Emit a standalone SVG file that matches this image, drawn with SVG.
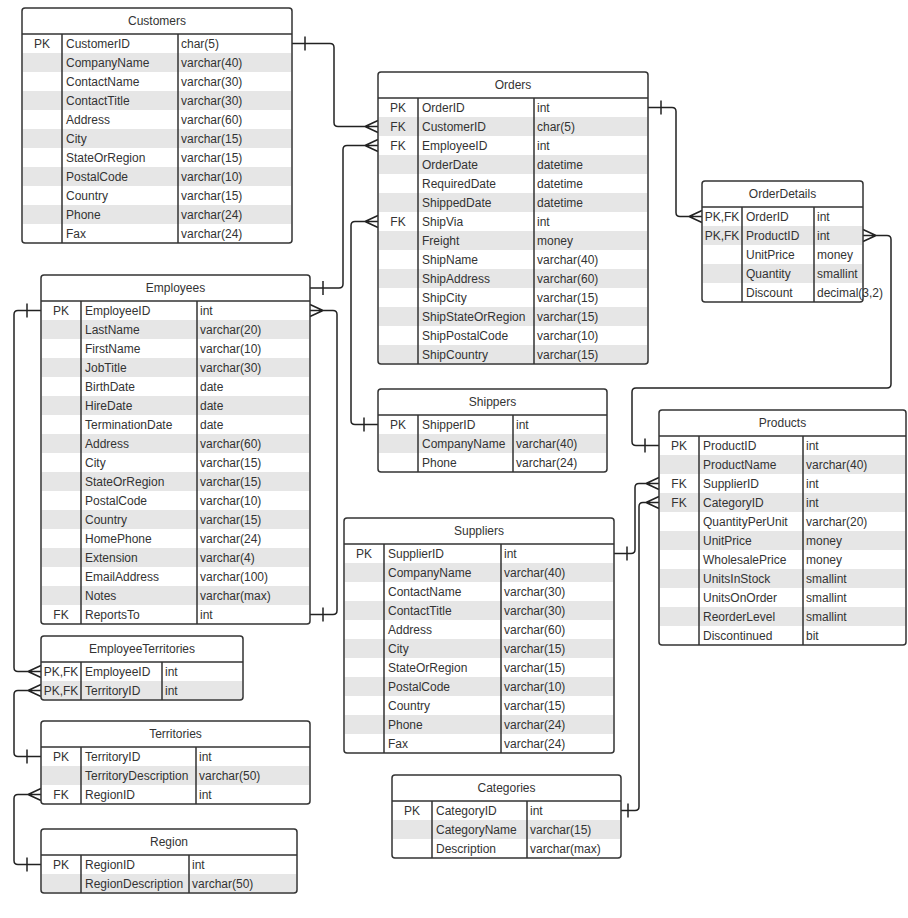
<svg xmlns="http://www.w3.org/2000/svg" width="908" height="918" viewBox="0 0 908 918">
<style>
.bg{fill:#fff}
.box{fill:none;stroke:#333;stroke-width:1.5}
.st{fill:#e6e6e6}
.ln{stroke:#333;stroke-width:1.5;fill:none}
.cn{stroke:#222;stroke-width:1.5;fill:none}
text{font-family:"Liberation Sans",Arial,sans-serif;font-size:12px;fill:#333}
.c{text-anchor:middle}
</style>
<rect width="908" height="918" fill="#fff"/>

<g id="connectors">
<!-- Customers -> Orders -->
<path class="cn" d="M292,43.5 H330 Q334,43.5 334,47.5 V122.5 Q334,126.5 338,126.5 H378 M305,36.5 V50.5 M365,126.5 L378,120.5 M365,126.5 L378,132.5"/>
<!-- Employees -> Orders -->
<path class="cn" d="M310,288 H339 Q343,288 343,284 V149.5 Q343,145.5 347,145.5 H378 M323,281 V295 M365,145.5 L378,139.5 M365,145.5 L378,151.5"/>
<!-- Shippers -> Orders -->
<path class="cn" d="M378,424.5 H355 Q351,424.5 351,420.5 V225.5 Q351,221.5 355,221.5 H378 M364,417.5 V431.5 M365,221.5 L378,215.5 M365,221.5 L378,227.5"/>
<!-- Employees self -->
<path class="cn" d="M310,310.5 H333 Q337,310.5 337,314.5 V610.5 Q337,614.5 333,614.5 H310 M323,310.5 L310,304.5 M323,310.5 L310,316.5 M323,607.5 V621.5"/>
<!-- Employees -> EmployeeTerritories -->
<path class="cn" d="M41,310.5 H18 Q14,310.5 14,314.5 V667.5 Q14,671.5 18,671.5 H41 M27,303.5 V317.5 M28,671.5 L41,665.5 M28,671.5 L41,677.5"/>
<!-- Territories -> EmployeeTerritories -->
<path class="cn" d="M41,690.5 H18 Q14,690.5 14,694.5 V752.5 Q14,756.5 18,756.5 H41 M28,690.5 L41,684.5 M28,690.5 L41,696.5 M27,749.5 V763.5"/>
<!-- Region -> Territories -->
<path class="cn" d="M41,794.5 H18 Q14,794.5 14,798.5 V860.5 Q14,864.5 18,864.5 H41 M28,794.5 L41,788.5 M28,794.5 L41,800.5 M27,857.5 V871.5"/>
<!-- Orders -> OrderDetails -->
<path class="cn" d="M648,107.5 H672 Q676,107.5 676,111.5 V212.5 Q676,216.5 680,216.5 H702 M661,100.5 V114.5 M689,216.5 L702,210.5 M689,216.5 L702,222.5"/>
<!-- Products -> OrderDetails -->
<path class="cn" d="M863,235.5 H887 Q891,235.5 891,239.5 V384 Q891,388 887,388 H636 Q632,388 632,392 V441.5 Q632,445.5 636,445.5 H659 M876,235.5 L863,229.5 M876,235.5 L863,241.5 M645,438.5 V452.5"/>
<!-- Suppliers -> Products -->
<path class="cn" d="M614,553.5 H631 Q635,553.5 635,549.5 V487.5 Q635,483.5 639,483.5 H659 M627,546.5 V560.5 M646,483.5 L659,477.5 M646,483.5 L659,489.5"/>
<!-- Categories -> Products -->
<path class="cn" d="M621,810.5 H635 Q639,810.5 639,806.5 V506.5 Q639,502.5 643,502.5 H659 M628,803.5 V817.5 M646,502.5 L659,496.5 M646,502.5 L659,508.5"/>
</g>

<g id="Customers">
<rect class="bg" x="22" y="8" width="270" height="235" rx="3"/>
<rect class="st" x="22.75" y="53" width="268.5" height="19"/>
<rect class="st" x="22.75" y="91" width="268.5" height="19"/>
<rect class="st" x="22.75" y="129" width="268.5" height="19"/>
<rect class="st" x="22.75" y="167" width="268.5" height="19"/>
<rect class="st" x="22.75" y="205" width="268.5" height="19"/>
<rect class="box" x="22" y="8" width="270" height="235" rx="3"/>
<path class="ln" d="M22,34 H292 M62,34 V243 M178,34 V243"/>
<text class="c" x="157" y="25">Customers</text>
<text class="c" x="42" y="48">PK</text>
<text x="66" y="48">CustomerID</text><text x="181" y="48">char(5)</text>
<text x="66" y="67">CompanyName</text><text x="181" y="67">varchar(40)</text>
<text x="66" y="86">ContactName</text><text x="181" y="86">varchar(30)</text>
<text x="66" y="105">ContactTitle</text><text x="181" y="105">varchar(30)</text>
<text x="66" y="124">Address</text><text x="181" y="124">varchar(60)</text>
<text x="66" y="143">City</text><text x="181" y="143">varchar(15)</text>
<text x="66" y="162">StateOrRegion</text><text x="181" y="162">varchar(15)</text>
<text x="66" y="181">PostalCode</text><text x="181" y="181">varchar(10)</text>
<text x="66" y="200">Country</text><text x="181" y="200">varchar(15)</text>
<text x="66" y="219">Phone</text><text x="181" y="219">varchar(24)</text>
<text x="66" y="238">Fax</text><text x="181" y="238">varchar(24)</text>
</g>

<g id="Orders">
<rect class="bg" x="378" y="72" width="270" height="292" rx="3"/>
<rect class="st" x="378.75" y="117" width="268.5" height="19"/>
<rect class="st" x="378.75" y="155" width="268.5" height="19"/>
<rect class="st" x="378.75" y="193" width="268.5" height="19"/>
<rect class="st" x="378.75" y="231" width="268.5" height="19"/>
<rect class="st" x="378.75" y="269" width="268.5" height="19"/>
<rect class="st" x="378.75" y="307" width="268.5" height="19"/>
<rect class="st" x="378.75" y="345" width="268.5" height="18"/>
<rect class="box" x="378" y="72" width="270" height="292" rx="3"/>
<path class="ln" d="M378,98 H648 M418,98 V364 M534,98 V364"/>
<text class="c" x="513" y="89">Orders</text>
<text class="c" x="398" y="112">PK</text><text x="422" y="112">OrderID</text><text x="537" y="112">int</text>
<text class="c" x="398" y="131">FK</text><text x="422" y="131">CustomerID</text><text x="537" y="131">char(5)</text>
<text class="c" x="398" y="150">FK</text><text x="422" y="150">EmployeeID</text><text x="537" y="150">int</text>
<text x="422" y="169">OrderDate</text><text x="537" y="169">datetime</text>
<text x="422" y="188">RequiredDate</text><text x="537" y="188">datetime</text>
<text x="422" y="207">ShippedDate</text><text x="537" y="207">datetime</text>
<text class="c" x="398" y="226">FK</text><text x="422" y="226">ShipVia</text><text x="537" y="226">int</text>
<text x="422" y="245">Freight</text><text x="537" y="245">money</text>
<text x="422" y="264">ShipName</text><text x="537" y="264">varchar(40)</text>
<text x="422" y="283">ShipAddress</text><text x="537" y="283">varchar(60)</text>
<text x="422" y="302">ShipCity</text><text x="537" y="302">varchar(15)</text>
<text x="422" y="321">ShipStateOrRegion</text><text x="537" y="321">varchar(15)</text>
<text x="422" y="340">ShipPostalCode</text><text x="537" y="340">varchar(10)</text>
<text x="422" y="359">ShipCountry</text><text x="537" y="359">varchar(15)</text>
</g>

<g id="OrderDetails">
<rect class="bg" x="702" y="181" width="161" height="121" rx="3"/>
<rect class="st" x="702.75" y="226" width="159.5" height="19"/>
<rect class="st" x="702.75" y="264" width="159.5" height="19"/>
<rect class="box" x="702" y="181" width="161" height="121" rx="3"/>
<path class="ln" d="M702,207 H863 M742,207 V302 M814,207 V302"/>
<text class="c" x="782.5" y="198">OrderDetails</text>
<text class="c" x="722" y="221">PK,FK</text><text x="746" y="221">OrderID</text><text x="817" y="221">int</text>
<text class="c" x="722" y="240">PK,FK</text><text x="746" y="240">ProductID</text><text x="817" y="240">int</text>
<text x="746" y="259">UnitPrice</text><text x="817" y="259">money</text>
<text x="746" y="278">Quantity</text><text x="817" y="278">smallint</text>
<text x="746" y="297">Discount</text><text x="817" y="297">decimal(3,2)</text>
</g>

<g id="Employees">
<rect class="bg" x="41" y="275" width="269" height="349" rx="3"/>
<rect class="st" x="41.75" y="320" width="267.5" height="19"/>
<rect class="st" x="41.75" y="358" width="267.5" height="19"/>
<rect class="st" x="41.75" y="396" width="267.5" height="19"/>
<rect class="st" x="41.75" y="434" width="267.5" height="19"/>
<rect class="st" x="41.75" y="472" width="267.5" height="19"/>
<rect class="st" x="41.75" y="510" width="267.5" height="19"/>
<rect class="st" x="41.75" y="548" width="267.5" height="19"/>
<rect class="st" x="41.75" y="586" width="267.5" height="19"/>
<rect class="box" x="41" y="275" width="269" height="349" rx="3"/>
<path class="ln" d="M41,301 H310 M81,301 V624 M197,301 V624"/>
<text class="c" x="175.5" y="292">Employees</text>
<text class="c" x="61" y="315">PK</text><text x="85" y="315">EmployeeID</text><text x="200" y="315">int</text>
<text x="85" y="334">LastName</text><text x="200" y="334">varchar(20)</text>
<text x="85" y="353">FirstName</text><text x="200" y="353">varchar(10)</text>
<text x="85" y="372">JobTitle</text><text x="200" y="372">varchar(30)</text>
<text x="85" y="391">BirthDate</text><text x="200" y="391">date</text>
<text x="85" y="410">HireDate</text><text x="200" y="410">date</text>
<text x="85" y="429">TerminationDate</text><text x="200" y="429">date</text>
<text x="85" y="448">Address</text><text x="200" y="448">varchar(60)</text>
<text x="85" y="467">City</text><text x="200" y="467">varchar(15)</text>
<text x="85" y="486">StateOrRegion</text><text x="200" y="486">varchar(15)</text>
<text x="85" y="505">PostalCode</text><text x="200" y="505">varchar(10)</text>
<text x="85" y="524">Country</text><text x="200" y="524">varchar(15)</text>
<text x="85" y="543">HomePhone</text><text x="200" y="543">varchar(24)</text>
<text x="85" y="562">Extension</text><text x="200" y="562">varchar(4)</text>
<text x="85" y="581">EmailAddress</text><text x="200" y="581">varchar(100)</text>
<text x="85" y="600">Notes</text><text x="200" y="600">varchar(max)</text>
<text class="c" x="61" y="619">FK</text><text x="85" y="619">ReportsTo</text><text x="200" y="619">int</text>
</g>

<g id="EmployeeTerritories">
<rect class="bg" x="41" y="636" width="202" height="64" rx="3"/>
<rect class="st" x="41.75" y="681" width="200.5" height="18"/>
<rect class="box" x="41" y="636" width="202" height="64" rx="3"/>
<path class="ln" d="M41,662 H243 M81,662 V700 M162,662 V700"/>
<text class="c" x="142" y="653">EmployeeTerritories</text>
<text class="c" x="61" y="676">PK,FK</text><text x="85" y="676">EmployeeID</text><text x="165" y="676">int</text>
<text class="c" x="61" y="695">PK,FK</text><text x="85" y="695">TerritoryID</text><text x="165" y="695">int</text>
</g>

<g id="Territories">
<rect class="bg" x="41" y="721" width="269" height="83" rx="3"/>
<rect class="st" x="41.75" y="766" width="267.5" height="19"/>
<rect class="box" x="41" y="721" width="269" height="83" rx="3"/>
<path class="ln" d="M41,747 H310 M81,747 V804 M196,747 V804"/>
<text class="c" x="175.5" y="738">Territories</text>
<text class="c" x="61" y="761">PK</text><text x="85" y="761">TerritoryID</text><text x="199" y="761">int</text>
<text x="85" y="780">TerritoryDescription</text><text x="199" y="780">varchar(50)</text>
<text class="c" x="61" y="799">FK</text><text x="85" y="799">RegionID</text><text x="199" y="799">int</text>
</g>

<g id="Region">
<rect class="bg" x="41" y="829" width="256" height="64" rx="3"/>
<rect class="st" x="41.75" y="874" width="254.5" height="18"/>
<rect class="box" x="41" y="829" width="256" height="64" rx="3"/>
<path class="ln" d="M41,855 H297 M81,855 V893 M189,855 V893"/>
<text class="c" x="169" y="846">Region</text>
<text class="c" x="61" y="869">PK</text><text x="85" y="869">RegionID</text><text x="192" y="869">int</text>
<text x="85" y="888">RegionDescription</text><text x="192" y="888">varchar(50)</text>
</g>

<g id="Shippers">
<rect class="bg" x="378" y="389" width="229" height="83" rx="3"/>
<rect class="st" x="378.75" y="434" width="227.5" height="19"/>
<rect class="box" x="378" y="389" width="229" height="83" rx="3"/>
<path class="ln" d="M378,415 H607 M418,415 V472 M513,415 V472"/>
<text class="c" x="492.5" y="406">Shippers</text>
<text class="c" x="398" y="429">PK</text><text x="422" y="429">ShipperID</text><text x="516" y="429">int</text>
<text x="422" y="448">CompanyName</text><text x="516" y="448">varchar(40)</text>
<text x="422" y="467">Phone</text><text x="516" y="467">varchar(24)</text>
</g>

<g id="Suppliers">
<rect class="bg" x="344" y="518" width="270" height="235" rx="3"/>
<rect class="st" x="344.75" y="563" width="268.5" height="19"/>
<rect class="st" x="344.75" y="601" width="268.5" height="19"/>
<rect class="st" x="344.75" y="639" width="268.5" height="19"/>
<rect class="st" x="344.75" y="677" width="268.5" height="19"/>
<rect class="st" x="344.75" y="715" width="268.5" height="19"/>
<rect class="box" x="344" y="518" width="270" height="235" rx="3"/>
<path class="ln" d="M344,544 H614 M384,544 V753 M501,544 V753"/>
<text class="c" x="479" y="535">Suppliers</text>
<text class="c" x="364" y="558">PK</text>
<text x="388" y="558">SupplierID</text><text x="504" y="558">int</text>
<text x="388" y="577">CompanyName</text><text x="504" y="577">varchar(40)</text>
<text x="388" y="596">ContactName</text><text x="504" y="596">varchar(30)</text>
<text x="388" y="615">ContactTitle</text><text x="504" y="615">varchar(30)</text>
<text x="388" y="634">Address</text><text x="504" y="634">varchar(60)</text>
<text x="388" y="653">City</text><text x="504" y="653">varchar(15)</text>
<text x="388" y="672">StateOrRegion</text><text x="504" y="672">varchar(15)</text>
<text x="388" y="691">PostalCode</text><text x="504" y="691">varchar(10)</text>
<text x="388" y="710">Country</text><text x="504" y="710">varchar(15)</text>
<text x="388" y="729">Phone</text><text x="504" y="729">varchar(24)</text>
<text x="388" y="748">Fax</text><text x="504" y="748">varchar(24)</text>
</g>

<g id="Products">
<rect class="bg" x="659" y="410" width="247" height="235" rx="3"/>
<rect class="st" x="659.75" y="455" width="245.5" height="19"/>
<rect class="st" x="659.75" y="493" width="245.5" height="19"/>
<rect class="st" x="659.75" y="531" width="245.5" height="19"/>
<rect class="st" x="659.75" y="569" width="245.5" height="19"/>
<rect class="st" x="659.75" y="607" width="245.5" height="19"/>
<rect class="box" x="659" y="410" width="247" height="235" rx="3"/>
<path class="ln" d="M659,436 H906 M699,436 V645 M803,436 V645"/>
<text class="c" x="782.5" y="427">Products</text>
<text class="c" x="679" y="450">PK</text><text x="703" y="450">ProductID</text><text x="806" y="450">int</text>
<text x="703" y="469">ProductName</text><text x="806" y="469">varchar(40)</text>
<text class="c" x="679" y="488">FK</text><text x="703" y="488">SupplierID</text><text x="806" y="488">int</text>
<text class="c" x="679" y="507">FK</text><text x="703" y="507">CategoryID</text><text x="806" y="507">int</text>
<text x="703" y="526">QuantityPerUnit</text><text x="806" y="526">varchar(20)</text>
<text x="703" y="545">UnitPrice</text><text x="806" y="545">money</text>
<text x="703" y="564">WholesalePrice</text><text x="806" y="564">money</text>
<text x="703" y="583">UnitsInStock</text><text x="806" y="583">smallint</text>
<text x="703" y="602">UnitsOnOrder</text><text x="806" y="602">smallint</text>
<text x="703" y="621">ReorderLevel</text><text x="806" y="621">smallint</text>
<text x="703" y="640">Discontinued</text><text x="806" y="640">bit</text>
</g>

<g id="Categories">
<rect class="bg" x="392" y="775" width="229" height="83" rx="3"/>
<rect class="st" x="392.75" y="820" width="227.5" height="19"/>
<rect class="box" x="392" y="775" width="229" height="83" rx="3"/>
<path class="ln" d="M392,801 H621 M432,801 V858 M527,801 V858"/>
<text class="c" x="506.5" y="792">Categories</text>
<text class="c" x="412" y="815">PK</text><text x="436" y="815">CategoryID</text><text x="530" y="815">int</text>
<text x="436" y="834">CategoryName</text><text x="530" y="834">varchar(15)</text>
<text x="436" y="853">Description</text><text x="530" y="853">varchar(max)</text>
</g>
</svg>
